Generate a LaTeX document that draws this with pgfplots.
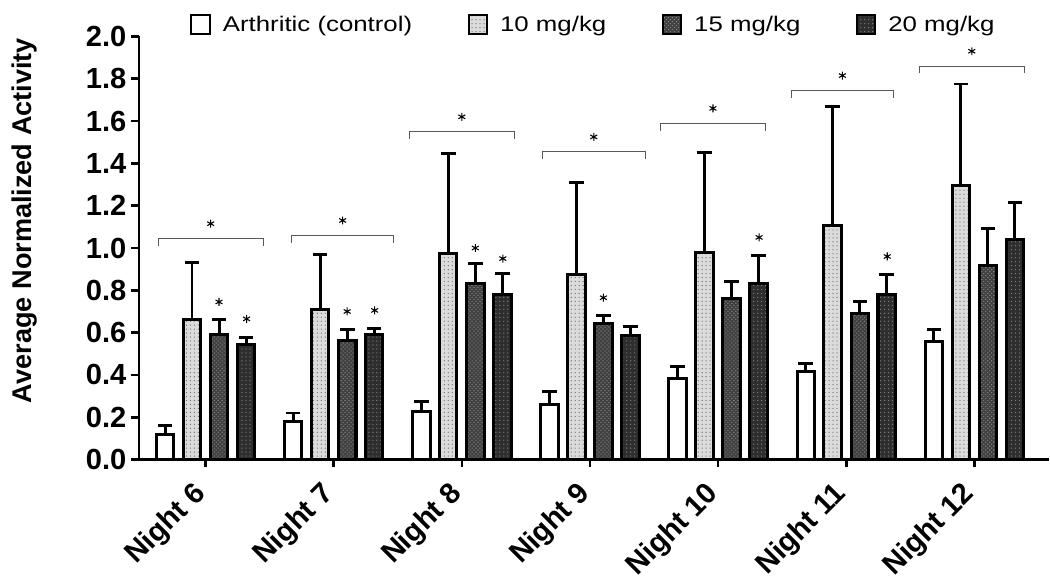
\documentclass[border=0pt]{standalone}
\usepackage{pgfplots}
\pgfplotsset{compat=1.18}
\usepackage{pgfplotstable}
\usepackage{fontspec}
\setmainfont{Liberation Sans}
\newfontfamily\legendfont[FakeStretch=1.22]{Liberation Sans}
\usetikzlibrary{patterns}

% group  control  +err  10mg  +err  15mg  +err  20mg  +err
\pgfplotstableread{
x c    cE    a     aE    b     bE    d     dE
0 0.12 0.04  0.66  0.27  0.59  0.07  0.545 0.03
1 0.18 0.04  0.71  0.26  0.565 0.05  0.59  0.03
2 0.225 0.05 0.975 0.47  0.83  0.095 0.78  0.10
3 0.26 0.06  0.875 0.435 0.645 0.035 0.585 0.045
4 0.385 0.055 0.98 0.47  0.76  0.08  0.83  0.135
5 0.415 0.04 1.105 0.565 0.69  0.055 0.78  0.095
6 0.56 0.055 1.295 0.48  0.915 0.175 1.04  0.175
}\data

% significance brackets (nan rows break the line)
\pgfplotstableread{
x y
-0.37 1.01
-0.37 1.045
0.45 1.045
0.45 1.01
nan nan
0.67 1.025
0.67 1.06
1.47 1.06
1.47 1.025
nan nan
1.59 1.515
1.59 1.55
2.41 1.55
2.41 1.515
nan nan
2.63 1.42
2.63 1.455
3.43 1.455
3.43 1.42
nan nan
3.55 1.555
3.55 1.59
4.37 1.59
4.37 1.555
nan nan
4.57 1.71
4.57 1.745
5.37 1.745
5.37 1.71
nan nan
5.57 1.825
5.57 1.86
6.39 1.86
6.39 1.825
}\brackets

\pgfplotstableread{
x y
0.04 1.115
1.07 1.13
2.0 1.62
3.03 1.525
3.96 1.66
4.97 1.815
5.98 1.93
0.105 0.745
0.32 0.665
1.105 0.70
1.32 0.705
2.105 1.0
2.32 0.95
3.105 0.765
4.32 1.05
5.32 0.96
}\stars

\begin{document}
\begin{tikzpicture}
\begin{axis}[
  scale only axis,
  width=688pt, height=320pt,
  xmin=-0.52, xmax=6.58, ymin=0, ymax=2,
  ybar, bar width=0.136,
  axis x line*=bottom, axis y line*=left,
  axis line style={line width=2pt},
  xtick={0,...,6},
  xticklabels={Night 6,Night 7,Night 8,Night 9,Night 10,Night 11,Night 12},
  ytick={0,0.2,0.4,0.6,0.8,1.0,1.2,1.4,1.6,1.8,2.0},
  yticklabel style={/pgf/number format/.cd,fixed,fixed zerofill,precision=1,assume math mode=true},
  tick style={line width=2pt, black},
  major tick length=6pt,
  tick align=outside,
  ticklabel style={font=\fontsize{22}{25}\selectfont\bfseries},
  x tick label style={rotate=45, anchor=east, xshift=-10.8pt, yshift=-9.7pt},
  ylabel={Average Normalized Activity},
  ylabel style={font=\fontsize{20.5}{24}\selectfont\bfseries,
    at={(axis description cs:-0.1257,0.565)}, anchor=center, inner ysep=9pt},
  legend style={at={(0.5,1.0)}, anchor=center, yshift=9pt, legend columns=-1, draw=none,
    font=\legendfont\fontsize{16}{19}\selectfont, fill=none, inner ysep=10pt,
    /tikz/every odd column/.append style={column sep=7pt},
    /tikz/every even column/.append style={column sep=40pt}},
  lgbox/.style={legend image code/.code={\draw[##1, line width=1.5pt] (0pt,-7pt) rectangle (14pt,7pt);}},
  error bars/y dir=plus, error bars/y explicit,
  error bars/error bar style={line width=2.2pt, black},
  error bars/error mark options={line width=2.2pt, black, mark size=5.5pt, rotate=90},
]
\addplot[bar shift=-0.316, draw=black, line width=2.3pt, fill=white, lgbox]
  table[x=x, y=c, y error=cE] {\data};
\addlegendentry{Arthritic (control)}
\addplot[bar shift=-0.106, draw=black, line width=2.3pt, fill=black!14,
  postaction={pattern=dots, pattern color=black!55}, lgbox]
  table[x=x, y=a, y error=aE] {\data};
\addlegendentry{10 mg/kg}
\addplot[bar shift=0.106, draw=black, line width=2.3pt, fill=black!75,
  postaction={pattern=crosshatch dots, pattern color=black!45}, lgbox]
  table[x=x, y=b, y error=bE] {\data};
\addlegendentry{15 mg/kg}
\addplot[bar shift=0.316, draw=black, line width=2.3pt, fill=black!82,
  postaction={pattern=dots, pattern color=black!50}, lgbox]
  table[x=x, y=d, y error=dE] {\data};
\addlegendentry{20 mg/kg}

\addplot[forget plot, sharp plot, no marks, line width=0.8pt, black!65, unbounded coords=jump,
  error bars/y dir=none]
  table {\brackets};
\addplot[forget plot, only marks, mark=asterisk, mark size=3pt, line width=0.8pt, black,
  error bars/y dir=none]
  table {\stars};
\end{axis}
\end{tikzpicture}
\end{document}
